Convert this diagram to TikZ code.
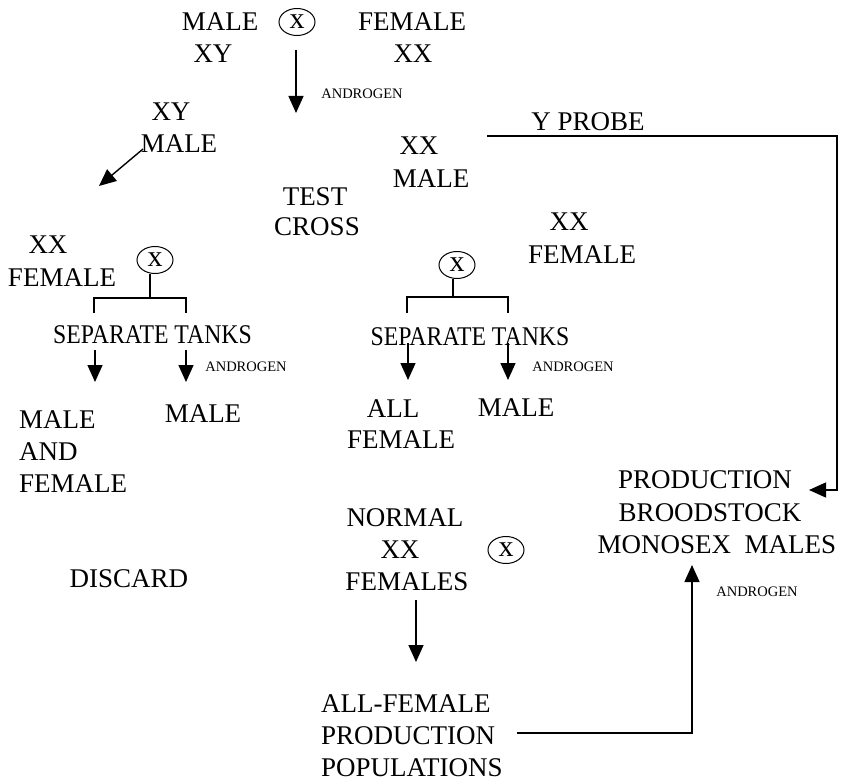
\documentclass[tikz,border=0pt]{standalone}
\usepackage{fontspec}
\setmainfont{Liberation Serif}
\usepackage{graphicx}
\usetikzlibrary{arrows.meta,shapes.geometric}
\begin{document}
\begin{tikzpicture}[x=1pt,y=-1pt,
  lbl/.style={font=\fontsize{27}{32}\selectfont, inner sep=0pt, anchor=base},
  lblw/.style={lbl, anchor=base west},
  small/.style={font=\fontsize{14.5}{17}\selectfont, inner sep=0pt, anchor=base},
  crossmark/.style={draw, ellipse, line width=1pt, minimum width=36pt, minimum height=27pt, inner sep=0pt, font=\fontsize{30}{34}\selectfont},
  arr/.style={line width=1.4pt, -{Triangle[width=15pt,length=17pt]}},
  ln/.style={line width=1.2pt}]
\useasboundingbox (0,0) rectangle (844,784);

% top cross
\node[lbl] (m1) at (220,31) {MALE};
\node[lbl] (m1g) at (213,63) {XY};
\node[crossmark] (c1) at (297,22) {x};
\node[lbl] (f1) at (412,31) {FEMALE};
\node[lbl] (f1g) at (413,63) {XX};
\coordinate (a1s) at (296,50);
\coordinate (a1e) at (296,113);
\draw[arr] (a1s) -- (a1e);
\node[small] (an1) at (362,98.8) {ANDROGEN};

% offspring
\node[lbl] (xy2) at (171,121) {XY};
\node[lbl] (m2) at (179,152) {MALE};
\coordinate (d0) at (143,149);
\coordinate (d1) at (99,186);
\draw[arr] (d0) -- (d1);
\node[lbl] (xx3) at (419,154) {XX};
\node[lbl] (m3) at (431,187) {MALE};
\node[lbl] (t) at (315,205) {TEST};
\node[lbl] (cr) at (317,235) {CROSS};
\node[lbl] (yp) at (588,131) {Y PROBE};
\node[lbl] (xx4) at (569,230) {XX};
\node[lbl] (f4) at (582,263) {FEMALE};

% left test cross
\node[lbl] (xx5) at (48,253) {XX};
\node[lbl] (f5) at (62,286) {FEMALE};
\node[crossmark] (c2) at (155,260) {x};
\coordinate (b1) at (150,298);
\coordinate (b1l) at (94,298);
\coordinate (b1r) at (186,298);
\draw[ln] (c2.south -| b1) -- (b1);
\draw[ln] (94,313) -- (b1l) -- (b1r) -- (186,313);
\node[lbl] (st1) at (152.5,343) {\scalebox{0.88}[1]{SEPARATE TANKS}};
\draw[arr] (95,350) -- (95,382);
\draw[arr] (186,350) -- (186,382);
\node[small] (an2) at (246,371.8) {ANDROGEN};
\node[lblw] (mf1) at (19,428) {MALE};
\node[lblw] (mf2) at (19,460) {AND};
\node[lblw] (mf3) at (19,492) {FEMALE};
\node[lbl] (m6) at (203,422) {MALE};
\node[lbl] (dis) at (129,587) {DISCARD};

% middle test cross
\node[crossmark] (c3) at (457,265) {x};
\coordinate (b2) at (453,297);
\coordinate (b2l) at (407,297);
\coordinate (b2r) at (508,297);
\draw[ln] (c3.south -| b2) -- (b2);
\draw[ln] (407,313) -- (b2l) -- (b2r) -- (508,313);
\node[lbl] (st2) at (470,345) {\scalebox{0.88}[1]{SEPARATE TANKS}};
\draw[arr] (408,343) -- (408,380);
\draw[arr] (508,343) -- (508,380);
\node[small] (an3) at (573,371.8) {ANDROGEN};
\node[lbl] (al) at (393,417) {ALL};
\node[lbl] (alf) at (401,448) {FEMALE};
\node[lbl] (m7) at (516,416) {MALE};

% production broodstock
\node[lbl] (pr) at (705,488) {PRODUCTION};
\node[lbl] (br) at (710,521) {BROODSTOCK};
\node[lbl] (mo) at (717,553) {MONOSEX~~MALES};
\coordinate (p0) at (487,136);
\coordinate (p1) at (837,136);
\coordinate (p2) at (837,490);
\coordinate (p3) at (809,490);
\draw[arr] (p0) -- (p1) -- (p2) -- (p3);

% normal females
\node[lbl] (no) at (405,526) {NORMAL};
\node[lbl] (nxx) at (400,558) {XX};
\node[lbl] (nf) at (407,590) {FEMALES};
\node[crossmark] (c4) at (506,550) {x};
\coordinate (n0) at (416,600);
\coordinate (n1) at (416,662);
\draw[arr] (n0) -- (n1);
\node[lblw] (af1) at (321,712) {ALL-FEMALE};
\node[lblw] (af2) at (321,744) {PRODUCTION};
\node[lblw] (af3) at (321,776) {POPULATIONS};
\coordinate (q0) at (517,733);
\coordinate (q1) at (692,733);
\coordinate (q2) at (692,565);
\draw[arr] (q0) -- (q1) -- (q2);
\node[small] (an4) at (757,596.8) {ANDROGEN};
\end{tikzpicture}
\end{document}
